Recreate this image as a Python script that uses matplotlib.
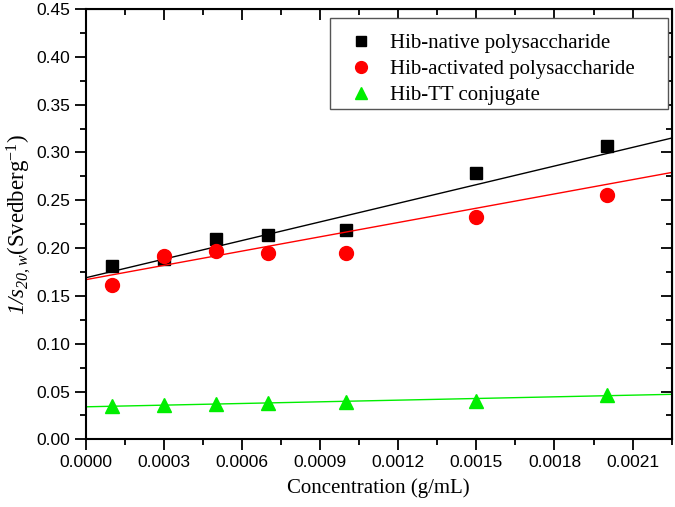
import numpy as np
import matplotlib
matplotlib.use('Agg')
import matplotlib.pyplot as plt
from matplotlib.patches import Rectangle
from matplotlib.ticker import MultipleLocator, FormatStrFormatter

# concentration (g/mL)
conc = np.array([0.0001, 0.0003, 0.0005, 0.0007, 0.0010, 0.0015, 0.0020])

# 1/s20,w values
native = np.array([0.181, 0.189, 0.209, 0.214, 0.219, 0.278, 0.307])
activated = np.array([0.161, 0.192, 0.197, 0.195, 0.195, 0.233, 0.256])
conjugate = np.array([0.035, 0.036, 0.037, 0.038, 0.039, 0.040, 0.046])

# linear fits as drawn (intercept, slope)
fit_intercept = [0.169, 0.167, 0.034]
fit_slope = [64.9, 49.8, 5.8]

labels = ['Hib-native polysaccharide', 'Hib-activated polysaccharide', 'Hib-TT conjugate']

plt.rcParams['mathtext.fontset'] = 'custom'
plt.rcParams['mathtext.rm'] = 'Liberation Serif'
plt.rcParams['mathtext.it'] = 'Liberation Serif:italic'
# bf slot used for italic digits in the y label
plt.rcParams['mathtext.bf'] = 'Liberation Serif:italic'


def main():
    fig = plt.figure(figsize=(6.75, 5.07), dpi=100)
    ax = fig.add_axes([0.1274, 0.1335, 0.8676, 0.8487])

    xfit = np.array([0.0, 0.00225])
    series = [(native, 'black', 's', 8.5), (activated, 'red', 'o', 10), (conjugate, '#00ee00', '^', 10.5)]
    for i, ((y, c, m, ms), lab) in enumerate(zip(series, labels)):
        ax.plot(conc, y, linestyle='none', marker=m, color=c, markersize=ms, label=lab)
        ax.plot(xfit, fit_intercept[i] + fit_slope[i] * xfit, color=c, lw=1.0)

    ax.set_xlim(0, 0.00225)
    ax.set_ylim(0, 0.45)
    ax.xaxis.set_major_locator(MultipleLocator(0.0003))
    ax.xaxis.set_minor_locator(MultipleLocator(0.00015))
    ax.yaxis.set_major_locator(MultipleLocator(0.05))
    ax.yaxis.set_minor_locator(MultipleLocator(0.025))
    ax.xaxis.set_major_formatter(FormatStrFormatter('%.4f'))
    ax.yaxis.set_major_formatter(FormatStrFormatter('%.2f'))

    for s in ax.spines.values():
        s.set_linewidth(1.5)
    ax.tick_params(which='both', direction='out', top=False, right=False,
                   width=1.3, labelsize=12.5, labelfontfamily='Liberation Sans')
    ax.tick_params(which='major', length=8)
    ax.tick_params(which='minor', length=4.5)

    # mirrored ticks inside on top and right
    axt = ax.secondary_xaxis('top')
    axt.xaxis.set_major_locator(MultipleLocator(0.0003))
    axt.xaxis.set_minor_locator(MultipleLocator(0.00015))
    axt.tick_params(which='both', direction='in', labeltop=False, width=1.3)
    axt.tick_params(which='major', length=8)
    axt.tick_params(which='minor', length=4.5)
    axr = ax.secondary_yaxis('right')
    axr.yaxis.set_major_locator(MultipleLocator(0.05))
    axr.yaxis.set_minor_locator(MultipleLocator(0.025))
    axr.tick_params(which='both', direction='in', labelright=False, width=1.3)
    axr.tick_params(which='major', length=8)
    axr.tick_params(which='minor', length=4.5)

    ax.set_xlabel('Concentration (g/mL)', family='Liberation Serif', fontsize=15, labelpad=6)
    ax.set_ylabel(r'$\mathbf{1/s}_{\mathbf{20,w}}$(Svedberg$^{\mathrm{-1}}$)', family='Liberation Serif',
                  fontsize=16.5, labelpad=2)

    # legend frame drawn by hand (extra room on the right as in the original)
    ax.add_patch(Rectangle((0.4166, 0.7676), 0.577, 0.2115, transform=ax.transAxes,
                           facecolor='white', edgecolor='#555555', lw=1.0, zorder=4))
    leg = ax.legend(loc='upper left', bbox_to_anchor=(0.4376, 0.943), frameon=False,
                    borderpad=0, borderaxespad=0, handletextpad=0.5, handlelength=1.8,
                    labelspacing=0.3, prop={'family': 'Liberation Serif', 'size': 15},
                    markerscale=0.85)
    leg.set_zorder(5)

    fig.savefig('out.png', dpi=100)


if __name__ == '__main__':
    main()
